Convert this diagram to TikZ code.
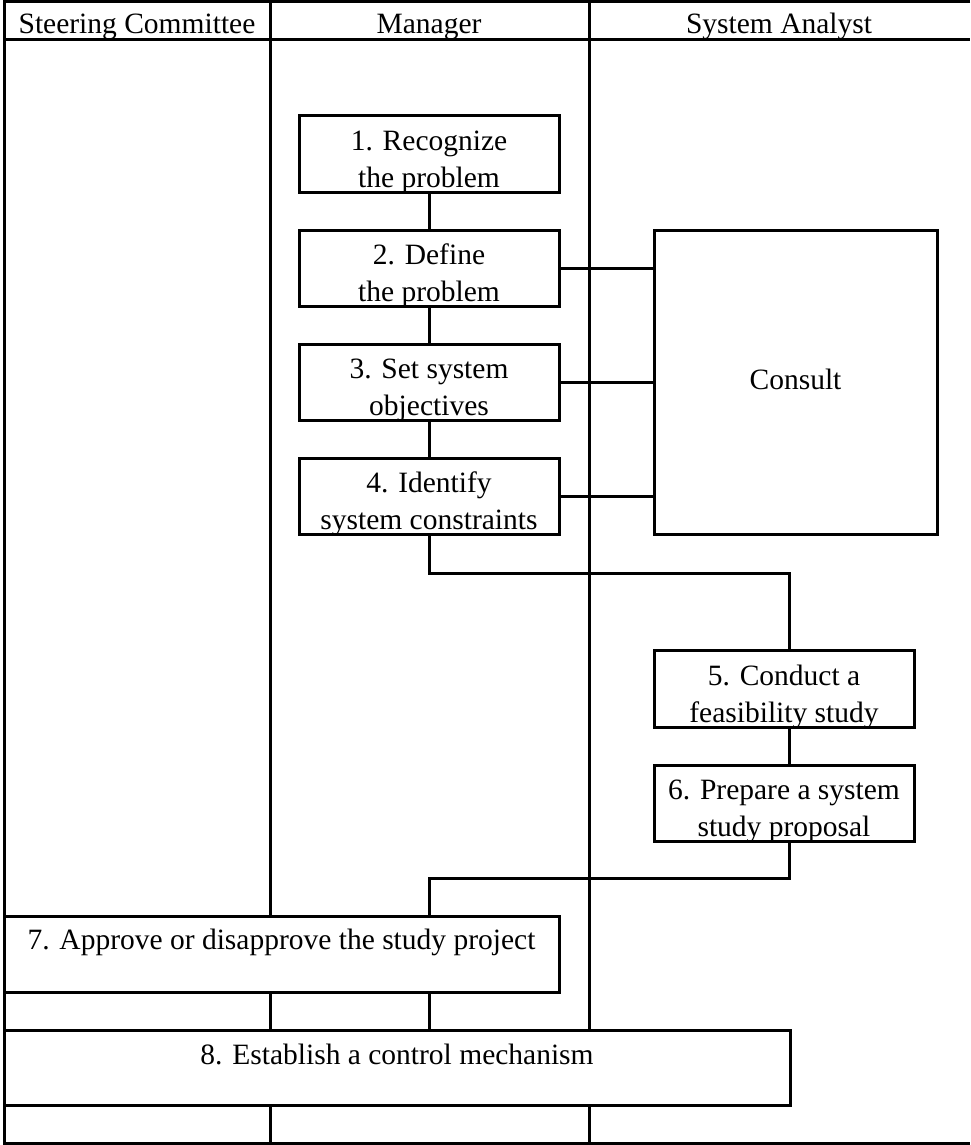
\documentclass[tikz,border=0pt]{standalone}
\usepackage{fontspec}
\setmainfont{Liberation Serif}
\begin{document}
\begin{tikzpicture}[x=1pt,y=-1pt,
  rule/.style={line width=3pt},
  box/.style={draw, rectangle, line width=3pt, fill=white, inner sep=0pt, outer sep=0pt},
  lbl/.style={inner sep=0pt, outer sep=0pt, align=center,
    font=\fontsize{29.5}{37}\selectfont},
  twoline/.style={lbl, anchor=south, text depth=0pt},
  oneline/.style={lbl, anchor=base},
  link/.style={line width=3pt}]
\useasboundingbox (0,0) rectangle (970,1145);

% swimlane frame and lane dividers
\draw[rule, line join=miter] (970,2) -- (4,2) -- (4,1143) -- (970,1143);
\draw[rule] (4,40) -- (970,40);
\draw[rule] (270,2) -- (270,1143);
\draw[rule] (589,2) -- (589,1143);

% lane headings
\node[oneline] (hsc) at (137,34) {Steering Committee};
\node[oneline] (hmg) at (429,34) {Manager};
\node[oneline] (hsa) at (779,34) {System Analyst};

% manager steps
\node[box, minimum width=260, minimum height=76] (b1) at (429,154) {};
\node[box, minimum width=260, minimum height=76] (b2) at (429,268) {};
\node[box, minimum width=260, minimum height=76] (b3) at (429,382) {};
\node[box, minimum width=260, minimum height=76] (b4) at (429,496) {};
\node[twoline] (t1) at (429,187) {1. Recognize\\the problem};
\node[twoline] (t2) at (429,301) {2. Define\\the problem};
\node[twoline] (t3) at (429,415) {3. Set system\\objectives};
\node[twoline] (t4) at (429,529) {4. Identify\\system constraints};

% consultation with the analyst
\node[box, minimum width=283, minimum height=304] (cs) at (795.5,382) {};
\node[oneline] (tcs) at (795.5,389) {Consult};

% analyst steps
\node[box, minimum width=260, minimum height=77] (b5) at (784,688.5) {};
\node[box, minimum width=260, minimum height=76] (b6) at (784,803) {};
\node[twoline] (t5) at (784,722) {5. Conduct a\\feasibility study};
\node[twoline] (t6) at (784,836) {6. Prepare a system\\study proposal};

% approval and control
\node[box, minimum width=555, minimum height=76] (b7) at (281.5,954) {};
\node[oneline] (t7) at (281.5,949) {7. Approve or disapprove the study project};
\node[box, minimum width=786, minimum height=75] (b8) at (397,1067.5) {};
\node[oneline] (t8) at (397,1064) {8. Establish a control mechanism};

% connectors
\draw[link] (b1) -- (b2);
\draw[link] (b2) -- (b3);
\draw[link] (b3) -- (b4);
\draw[link] (b2.east) -- (b2.east -| cs.west);
\draw[link] (b3.east) -- (b3.east -| cs.west);
\draw[link] (b4.east) -- (b4.east -| cs.west);
\draw[link] (b4.south) -- ++(0,39) -| ([xshift=5]b5.north);
\draw[link] ([xshift=5]b5.south) -- ([xshift=5]b6.north);
\draw[link] ([xshift=5]b6.south) -- ++(0,37) -| ([xshift=147.5]b7.north);
\draw[link] ([xshift=147.5]b7.south) -- ([xshift=147.5]b7.south |- b8.north);
\end{tikzpicture}
\end{document}
